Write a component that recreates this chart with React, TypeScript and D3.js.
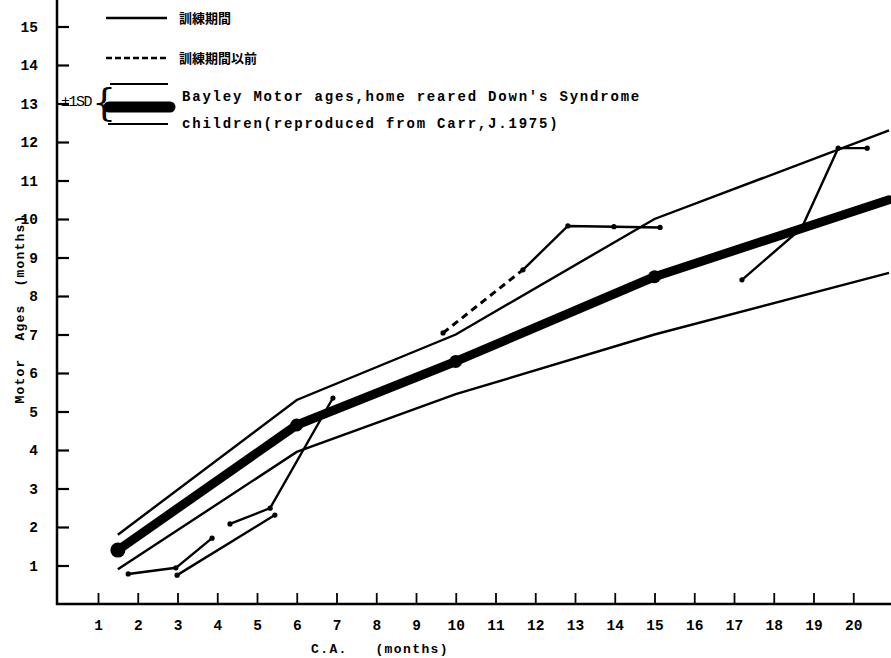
import React, { useEffect, useRef } from 'react';
import * as d3 from 'd3';

// Bayley motor ages, home reared Down's syndrome children (Carr 1975)
const meanAges = [[1.5, 1.4], [6, 4.65], [10, 6.3], [15, 8.5], [20.9, 10.5]];
const upperSD = [[1.5, 1.8], [6, 5.3], [10, 7.0], [15, 10.0], [20.9, 12.3]];
const lowerSD = [[1.5, 0.9], [6, 3.95], [10, 5.45], [15, 7.0], [20.9, 8.6]];

// individual children, during training (solid)
const childA = [[1.76, 0.78], [2.96, 0.94], [3.87, 1.71]];
const childB = [[2.99, 0.75], [5.45, 2.31]];
const childC = [[4.32, 2.08], [5.33, 2.49], [6.91, 5.35]];
const childD = [[11.69, 8.68], [12.82, 9.82], [13.98, 9.8], [15.14, 9.78]];
const childE = [[17.2, 8.42], [18.7, 9.76], [19.62, 11.84], [20.35, 11.84]];
// before training (dashed)
const childDBefore = [[9.68, 7.04], [11.69, 8.68]];

const xTicks = d3.range(1, 21);
const yTicks = d3.range(1, 16);

const W = 891;
const H = 658;
const mono = '"Liberation Mono", "DejaVu Sans Mono", monospace';
const cjk = '"Noto Sans CJK JP", "Noto Sans CJK SC", sans-serif';

const App = () => {
  const ref = useRef<SVGSVGElement>(null);

  useEffect(() => {
    const svg = d3.select(ref.current);
    svg.selectAll('*').remove();

    const x = d3.scaleLinear().domain([0, 20]).range([58.25, 853.25]);
    const y = d3.scaleLinear().domain([0, 15]).range([604, 26.5]);
    const line = d3.line<number[]>().x((d) => x(d[0])).y((d) => y(d[1]));

    // axes lines
    svg.append('line').attr('x1', 57).attr('x2', 57).attr('y1', 0).attr('y2', 605)
      .attr('stroke', '#000').attr('stroke-width', 2.5);
    svg.append('line').attr('x1', 56).attr('x2', W).attr('y1', 604).attr('y2', 604)
      .attr('stroke', '#000').attr('stroke-width', 2.5);

    const xa = svg.append('g').attr('transform', 'translate(0,604)')
      .call(d3.axisBottom(x).tickValues(xTicks).tickSizeInner(-11).tickSizeOuter(0).tickPadding(16));
    xa.select('.domain').remove();
    xa.selectAll('line').attr('stroke', '#000').attr('stroke-width', 1.8);
    xa.selectAll('text').attr('font-family', mono).attr('font-weight', 'bold')
      .attr('font-size', 14.5).attr('fill', '#000');

    const ya = svg.append('g').attr('transform', 'translate(57,0)')
      .call(d3.axisLeft(y).tickValues(yTicks).tickSizeInner(-12).tickSizeOuter(0).tickPadding(19));
    ya.select('.domain').remove();
    ya.selectAll('line').attr('stroke', '#000').attr('stroke-width', 2.2);
    ya.selectAll('text').attr('font-family', mono).attr('font-weight', 'bold')
      .attr('font-size', 14.5).attr('fill', '#000');

    // reference band
    [upperSD, lowerSD].forEach((s) => {
      svg.append('path').attr('d', line(s)).attr('fill', 'none')
        .attr('stroke', '#000').attr('stroke-width', 2.4);
    });
    svg.append('path').attr('d', line(meanAges)).attr('fill', 'none')
      .attr('stroke', '#000').attr('stroke-width', 9).attr('stroke-linecap', 'round')
      .attr('stroke-linejoin', 'round');
    svg.selectAll('.mdot').data(meanAges.slice(0, 4)).enter().append('circle')
      .attr('cx', (d) => x(d[0])).attr('cy', (d) => y(d[1]))
      .attr('r', (d, i) => (i === 0 ? 7.5 : 6.5)).attr('fill', '#000');

    // children
    const kids = [childA, childB, childC, childD, childE];
    kids.forEach((k) => {
      svg.append('path').attr('d', line(k)).attr('fill', 'none')
        .attr('stroke', '#000').attr('stroke-width', 2.4);
      svg.append('g').selectAll('circle').data(k).enter().append('circle')
        .attr('cx', (d) => x(d[0])).attr('cy', (d) => y(d[1])).attr('r', 2.6).attr('fill', '#000');
    });
    svg.append('path').attr('d', line(childDBefore)).attr('fill', 'none')
      .attr('stroke', '#000').attr('stroke-width', 3).attr('stroke-dasharray', '7,5');
    svg.append('circle').attr('cx', x(childDBefore[0][0])).attr('cy', y(childDBefore[0][1]))
      .attr('r', 2.6).attr('fill', '#000');

    // legend
    const lg = svg.append('g');
    lg.append('line').attr('x1', 106).attr('x2', 167).attr('y1', 18).attr('y2', 18)
      .attr('stroke', '#000').attr('stroke-width', 2.5);
    lg.append('text').attr('x', 179).attr('y', 23).text('訓練期間')
      .attr('font-family', cjk).attr('font-weight', 'bold').attr('font-size', 13);
    lg.append('line').attr('x1', 106).attr('x2', 167).attr('y1', 58).attr('y2', 58)
      .attr('stroke', '#000').attr('stroke-width', 2.5).attr('stroke-dasharray', '6,3');
    lg.append('text').attr('x', 179).attr('y', 63).text('訓練期間以前')
      .attr('font-family', cjk).attr('font-weight', 'bold').attr('font-size', 13);
    lg.append('line').attr('x1', 110).attr('x2', 168).attr('y1', 84).attr('y2', 84)
      .attr('stroke', '#000').attr('stroke-width', 2);
    lg.append('line').attr('x1', 109).attr('x2', 170).attr('y1', 107).attr('y2', 107)
      .attr('stroke', '#000').attr('stroke-width', 11).attr('stroke-linecap', 'round');
    lg.append('line').attr('x1', 108).attr('x2', 168).attr('y1', 124).attr('y2', 124)
      .attr('stroke', '#000').attr('stroke-width', 2);
    lg.append('text').attr('x', 61).attr('y', 106).text('±1SD')
      .attr('font-family', mono).attr('font-size', 15).attr('letter-spacing', -1.5);
    lg.append('text').attr('x', 92).attr('y', 115).text('{')
      .attr('font-family', 'DejaVu Serif, serif').attr('font-size', 38).attr('font-weight', 200);
    lg.append('text').attr('x', 182).attr('y', 101)
      .text("Bayley Motor ages,home reared Down's Syndrome")
      .attr('font-family', mono).attr('font-size', 14).attr('font-weight', 'bold')
      .attr('letter-spacing', 1.8);
    lg.append('text').attr('x', 182).attr('y', 128)
      .text('children(reproduced from Carr,J.1975)')
      .attr('font-family', mono).attr('font-size', 14).attr('font-weight', 'bold')
      .attr('letter-spacing', 1.8);

    // axis titles
    svg.append('text').attr('x', 311).attr('y', 653).text('C.A.   (months)')
      .attr('font-family', mono).attr('font-size', 13).attr('font-weight', 'bold')
      .attr('letter-spacing', 1.4).style('white-space', 'pre');
    svg.append('text').attr('transform', 'translate(24,309) rotate(-90)')
      .attr('text-anchor', 'middle').text('Motor  Ages  (months)')
      .attr('font-family', mono).attr('font-size', 13).attr('font-weight', 'bold')
      .attr('letter-spacing', 1.2).style('white-space', 'pre');
  }, []);

  return (
    <svg ref={ref} width={W} height={H}
      style={{ position: 'absolute', left: 0, top: 0, background: '#fff' }} />
  );
};

export default App;
